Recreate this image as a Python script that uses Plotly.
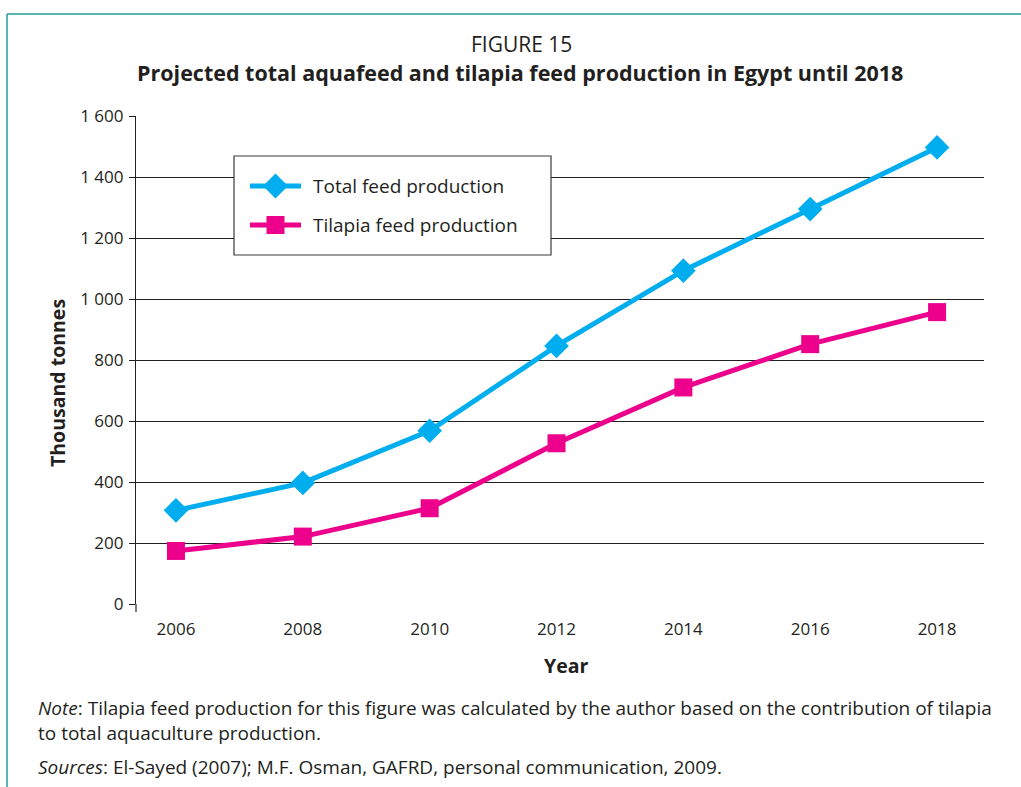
import plotly.graph_objects as go

# Projected feed production, thousand tonnes
years = [2006, 2008, 2010, 2012, 2014, 2016, 2018]
total_feed = [307, 397, 568, 846, 1093, 1295, 1497]
tilapia_feed = [174, 221, 314, 527, 710, 852, 957]

series_names = ["Total feed production", "Tilapia feed production"]

y_tickvals = [0, 200, 400, 600, 800, 1000, 1200, 1400, 1600]
y_ticktext = ["0", "200", "400", "600", "800", "1 000", "1 200", "1 400", "1 600"]

W, H = 1021, 787
L, R, T, B = 136, 37, 116, 183
PW, PH = W - L - R, H - T - B

FONT = "Open Sans"
INK = "#231F20"
BLUE = "#00AEEF"
MAGENTA = "#EC008C"
TEAL = "#1E9C9C"


def px(x):
    return (x - L) / PW


def py(y):
    return (H - B - y) / PH


fig = go.Figure()
fig.add_trace(go.Scatter(
    x=years, y=total_feed, name=series_names[0],
    mode="lines+markers",
    line=dict(color=BLUE, width=5),
    marker=dict(symbol="diamond", size=19, color=BLUE),
))
fig.add_trace(go.Scatter(
    x=years, y=tilapia_feed, name=series_names[1],
    mode="lines+markers",
    line=dict(color=MAGENTA, width=5),
    marker=dict(symbol="square", size=18, color=MAGENTA),
))

fig.update_layout(
    width=W, height=H,
    margin=dict(l=L, r=R, t=T, b=B, autoexpand=False),
    paper_bgcolor="white", plot_bgcolor="white",
    font=dict(family=FONT, color=INK, size=17),
    showlegend=False,
    xaxis=dict(
        range=[2005.37, 2018.74],
        tickvals=years, ticks="", showline=False, zeroline=False,
        showgrid=False, ticklabelstandoff=13,
        tickfont=dict(size=17, color=INK),
    ),
    yaxis=dict(
        range=[0, 1600], tickvals=y_tickvals, ticktext=y_ticktext,
        showline=True, linecolor=INK, linewidth=1.2,
        ticks="outside", ticklen=6, tickcolor=INK, tickwidth=1.2,
        showgrid=True, gridcolor=INK, gridwidth=1.2, zeroline=False,
        ticklabelstandoff=2,
        tickfont=dict(size=17, color=INK),
    ),
)

# frame of the figure panel
fig.add_shape(type="line", xref="paper", yref="paper",
              x0=px(7), x1=px(W + 2), y0=py(14), y1=py(14),
              line=dict(color=TEAL, width=1.5))
fig.add_shape(type="line", xref="paper", yref="paper",
              x0=px(7), x1=px(7), y0=py(14), y1=py(H + 2),
              line=dict(color=TEAL, width=1.5))
# short extension of the value axis below zero
fig.add_shape(type="line", xref="paper", yref="paper",
              x0=0, x1=0, y0=0, y1=py(612),
              line=dict(color=INK, width=1.2))

# legend box with keys
fig.add_shape(type="rect", xref="paper", yref="paper",
              x0=px(234), x1=px(551), y0=py(156), y1=py(255),
              line=dict(color="#3a3a3a", width=1.2), fillcolor="white", layer="above")
key_rows = [(186, BLUE, "diamond"), (225, MAGENTA, "square")]
for (yy, col, sym), name in zip(key_rows, series_names):
    fig.add_shape(type="line", xref="paper", yref="paper",
                  x0=px(250), x1=px(301), y0=py(yy), y1=py(yy),
                  line=dict(color=col, width=5), layer="above")
    if sym == "diamond":
        d = 12.5
        path = (f"M {px(275.5 - d)} {py(yy)} L {px(275.5)} {py(yy - d)} "
                f"L {px(275.5 + d)} {py(yy)} L {px(275.5)} {py(yy + d)} Z")
        fig.add_shape(type="path", xref="paper", yref="paper", path=path,
                      fillcolor=col, line=dict(width=0), layer="above")
    else:
        h = 9
        fig.add_shape(type="rect", xref="paper", yref="paper",
                      x0=px(275.5 - h), x1=px(275.5 + h), y0=py(yy - h), y1=py(yy + h),
                      fillcolor=col, line=dict(width=0), layer="above")
    fig.add_annotation(text=name, x=px(311), y=py(yy), xref="paper", yref="paper",
                       xanchor="left", yanchor="middle", showarrow=False,
                       font=dict(family=FONT, size=19, color=INK))

annots = [
    ("FIGURE 15", px(521), py(44), 21),
    ("<b>Projected total aquafeed and tilapia feed production in Egypt until 2018</b>",
     px(520), py(72), 21.5),
    ("<b>Year</b>", px(566), py(665), 19.5),
]
for txt, x, y, size in annots:
    fig.add_annotation(text=txt, x=x, y=y, xref="paper", yref="paper",
                       xanchor="center", yanchor="middle", showarrow=False,
                       font=dict(family=FONT, size=size, color=INK))

fig.add_annotation(text="<b>Thousand tonnes</b>", x=px(57), y=py(383),
                   xref="paper", yref="paper", textangle=-90,
                   xanchor="center", yanchor="middle", showarrow=False,
                   font=dict(family=FONT, size=19.5, color=INK))

notes = [
    ("<i>Note</i>: Tilapia feed production for this figure was calculated by the author based on the contribution of tilapia"
     "<br>to total aquaculture production.", 720.5),
    ("<i>Sources</i>: El-Sayed (2007); M.F. Osman, GAFRD, personal communication, 2009.", 767),
]
for txt, yy in notes:
    fig.add_annotation(text=txt, x=px(36), y=py(yy), xref="paper", yref="paper",
                       xanchor="left", yanchor="middle", align="left", showarrow=False,
                       font=dict(family=FONT, size=19, color=INK))

fig.write_html("out.html")
